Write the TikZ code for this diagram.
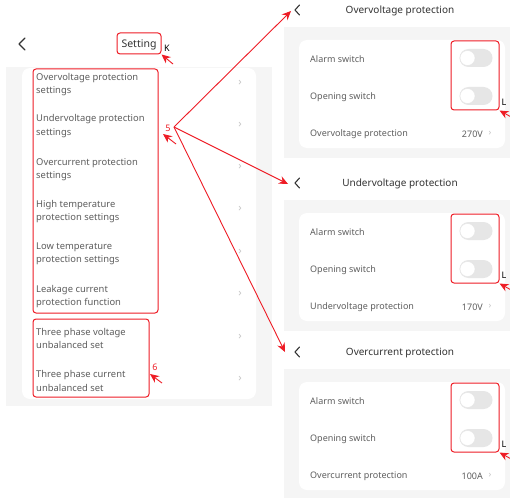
\documentclass[tikz,border=0pt]{standalone}
\usepackage{fontspec}
\setmainfont{Noto Sans}
\usetikzlibrary{arrows.meta}
\definecolor{redc}{HTML}{EE1C25}
\definecolor{bgc}{HTML}{F5F5F5}
\definecolor{txt}{HTML}{5E5E5E}
\definecolor{chev}{HTML}{C4C4C4}
\definecolor{tog}{HTML}{E6E6E6}
\definecolor{dark}{HTML}{333333}
\begin{document}
\begin{tikzpicture}[x=1pt,y=-1pt,
  item/.style={anchor=west,align=left,text=txt,inner sep=0pt,font=\fontsize{9.4}{13.5}\selectfont},
  rowtxt/.style={anchor=west,text=txt,inner sep=0pt,font=\fontsize{9}{11}\selectfont},
  valtxt/.style={anchor=east,text=txt,inner sep=0pt,font=\fontsize{9}{11}\selectfont},
  title/.style={text=dark,inner sep=0pt,font=\fontsize{10}{12}\selectfont},
  chevron/.style={text=chev,inner sep=0pt,font=\fontsize{11}{12}\selectfont},
  redbox/.style={draw=redc,line width=1pt,rounded corners=3pt,inner sep=0pt},
  redarrow/.style={draw=redc,line width=0.9pt,-{Stealth[length=9pt,width=8pt]}},
  marklab/.style={inner sep=0pt,font=\fontsize{9}{10}\selectfont},
  backc/.style={draw=dark,line width=1.3pt,line cap=round,line join=round},
  pill/.style={fill=tog,rounded corners=9pt,minimum width=33pt,minimum height=18pt,inner sep=0pt},
  knob/.style={circle,fill=white,draw=black!10,minimum size=15pt,inner sep=0pt}
]
\useasboundingbox (0,0) rectangle (510,497);
\fill[white] (0,0) rectangle (510,497);

% ---------- left panel ----------
\fill[bgc] (6,67) rectangle (272,406);
\fill[white,rounded corners=8pt] (22,68) rectangle (256,399);
\draw[backc] (25,38) -- (19,44) -- (25,50);
\node[title,font=\fontsize{10.5}{12}\selectfont] (setting) at (139,45) {Setting};
\node[redbox,minimum width=44pt,minimum height=21pt] (boxK) at (139,43.5) {};
\node[marklab] (labK) at (167,48) {K};
\coordinate (tailK) at (173,64);
\draw[redarrow] (tailK) -- (boxK.south east);

\node[item] (i1) at (36,84.5) {Overvoltage protection\\settings};
\node[item] (i2) at (36,126) {Undervoltage protection\\settings};
\node[item] (i3) at (36,169.5) {Overcurrent protection\\settings};
\node[item] (i4) at (36,211.5) {High temperature\\protection settings};
\node[item] (i5) at (36,254) {Low temperature\\protection settings};
\node[item] (i6) at (36,296.5) {Leakage current\\protection function};
\node[item] (i7) at (36,338.5) {Three phase voltage\\unbalanced set};
\node[item] (i8) at (36,381) {Three phase current\\unbalanced set};
\foreach \y [count=\k] in {83,125,167,209,252,294,337,379}
  \node[chevron] (c\k) at (240,\y) {›};

\node[redbox,minimum width=125pt,minimum height=244pt] (box5) at (95.5,191) {};
\node[redbox,minimum width=116pt,minimum height=78pt] (box6) at (91,358) {};

\node[marklab,text=redc] (lab5) at (168,128) {5};
\coordinate (tail5) at (176,144);
\coordinate (tip5) at (163,134);
\draw[redarrow] (tail5) -- (tip5);
\node[marklab,text=redc] (lab6) at (155,367) {6};
\coordinate (tail6) at (162,383);
\coordinate (tip6) at (150,374);
\draw[redarrow] (tail6) -- (tip6);

% ---------- right panels ----------
\foreach \oy/\nm/\ttl/\lbl/\val in {0/1/Overvoltage protection/Overvoltage protection/270V,
                                   173/2/Undervoltage protection/Undervoltage protection/170V,
                                   342/3/Overcurrent protection/Overcurrent protection/100A}{
  \begin{scope}[yshift=-\oy pt]
    \fill[bgc] (284,27) rectangle (510,158);
    \fill[white,rounded corners=8pt] (299,40) rectangle (505,148);
    \draw[backc,line width=1.1pt] (299.5,5) -- (295,10) -- (299.5,15);
    \coordinate (back\nm) at (291,11);
    \node[title] (t\nm) at (400,11) {\ttl};
    \node[rowtxt] (a\nm) at (310,59) {Alarm switch};
    \node[rowtxt] (o\nm) at (310,97) {Opening switch};
    \node[rowtxt] (p\nm) at (310,134.5) {\lbl};
    \node[valtxt] (v\nm) at (483,134.5) {\val};
    \node[chevron,font=\fontsize{9}{10}\selectfont] (vc\nm) at (490,133.5) {›};
    \node[pill] (ta\nm) at (476,58) {};
    \node[knob] (ka\nm) at (467.5,58) {};
    \node[pill] (to\nm) at (476,96) {};
    \node[knob] (ko\nm) at (467.5,96) {};
    \node[redbox,minimum width=48pt,minimum height=69pt] (boxL\nm) at (475,75.5) {};
    \node[marklab] (labL\nm) at (504,102) {L};
    \coordinate (tailL\nm) at (513,118);
    \draw[redarrow] (tailL\nm) -- (boxL\nm.south east);
  \end{scope}
}

% ---------- fan arrows ----------
\coordinate (fan) at (174,127);
\coordinate (tipA) at (291,11);
\coordinate (tipB) at (288,184);
\coordinate (tipC) at (285,352);
\draw[redarrow] (fan) -- (tipA);
\draw[redarrow] (fan) -- (tipB);
\draw[redarrow] (fan) -- (tipC);
\end{tikzpicture}
\end{document}
